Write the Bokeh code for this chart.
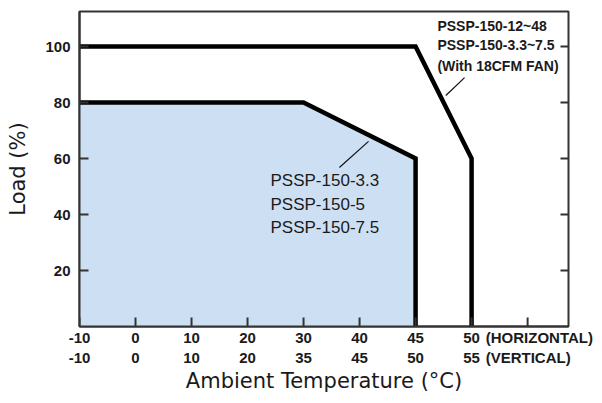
import numpy as np
from bokeh.plotting import figure
from bokeh.models import LinearAxis, FixedTicker, Range1d
from bokeh.core.properties import value
from bokeh.embed import file_html
from bokeh.resources import INLINE

# ---- data ----
temp_horizontal = [-10, 0, 10, 20, 30, 40, 45, 50]
temp_vertical = [-10, 0, 10, 20, 35, 45, 50, 55]
load_ticks = [20, 40, 60, 80, 100]

std_temp = [-10, 30, 45, 45]          # horizontal mounting temperatures
std_load = [80, 80, 60, 0]
fan_temp = [-10, 45, 50, 50]
fan_load = [100, 100, 60, 0]

std_models = ["PSSP-150-3.3", "PSSP-150-5", "PSSP-150-7.5"]
fan_models = ["PSSP-150-12~48", "PSSP-150-3.3~7.5", "(With 18CFM FAN)"]
mount_h = "(HORIZONTAL)"
mount_v = "(VERTICAL)"

# the temperature axis is drawn with evenly spaced tick labels
positions = list(range(len(temp_horizontal)))
def to_pos(t):
    return [float(v) for v in np.interp(t, temp_horizontal, positions)]

std_pos = to_pos(std_temp)
fan_pos = to_pos(fan_temp)

FONT = "Liberation Sans"
TXT = "#1a1a1a"
AX = "#333333"

X_END = 8.73
Y_END = 112.5
FRAME_W = 594 - 79 - 26
FRAME_H = 395 - 11 - 69
px_x = X_END / FRAME_W     # data units per pixel
px_y = Y_END / FRAME_H

p = figure(width=594, height=395, output_backend="svg", toolbar_location=None,
           x_range=Range1d(0, X_END), y_range=Range1d(0, Y_END),
           min_border_left=79, min_border_right=26, min_border_top=11,
           min_border_bottom=69)
p.xgrid.grid_line_color = None
p.ygrid.grid_line_color = None
p.outline_line_color = AX
p.outline_line_width = 2
p.background_fill_color = "white"

# blue region + curves
p.patch([std_pos[0]] + std_pos, [0] + std_load, fill_color="#cde0f3", line_color=None)
p.line(std_pos, std_load, line_color="black", line_width=4.5, line_join="miter")
p.line(fan_pos, fan_load, line_color="black", line_width=4.5, line_join="miter")

# inward tick marks on the bottom and right edges
bt = positions + [len(positions)]
p.segment(x0=bt, y0=[0] * len(bt), x1=bt, y1=[9 * px_y] * len(bt),
          line_color=AX, line_width=2)
p.segment(x0=[X_END] * len(load_ticks), y0=load_ticks,
          x1=[X_END - 8 * px_x] * len(load_ticks), y1=load_ticks,
          line_color=AX, line_width=2)

# leader lines
p.segment(x0=[4.64, 6.875], y0=[56.8, 88.9], x1=[5.16, 6.54], y1=[66.1, 82.5],
          line_color="#111111", line_width=1.2)

# in-plot texts
p.text(x=[3.41] * 3, y=[52.3, 43.7, 35.3], text=std_models,
       text_font=value(FONT), text_font_size="17px", text_color=TXT,
       text_baseline="middle", text_align="left")
p.text(x=[6.39] * 3, y=[107.3, 100.4, 93.2], text=fan_models,
       text_font=value(FONT), text_font_size="14px", text_font_style="bold",
       text_color=TXT, text_baseline="middle", text_align="left")

# y axis (left)
ya = p.yaxis[0]
ya.ticker = FixedTicker(ticks=load_ticks)
ya.major_tick_in = 9
ya.major_tick_out = 0
ya.minor_tick_line_color = None
ya.minor_tick_out = 0
ya.major_tick_line_width = 2
ya.major_tick_line_color = AX
ya.axis_line_color = AX
ya.axis_line_width = 2
ya.major_label_standoff = 9
ya.major_label_text_font = FONT
ya.major_label_text_font_size = "15px"
ya.major_label_text_font_style = "bold"
ya.major_label_text_color = TXT
ya.axis_label = "Load (%)"
ya.axis_label_text_font = "DejaVu Sans"
ya.axis_label_text_font_size = "21px"
ya.axis_label_text_font_style = "normal"
ya.axis_label_text_color = TXT
ya.axis_label_standoff = 12

# x axis (horizontal-mounting row)
h_pos = 8.21
v_pos = 8.01
xa = p.xaxis[0]
xa.ticker = FixedTicker(ticks=positions + [h_pos])
overrides_h = {i: str(t) for i, t in zip(positions, temp_horizontal)}
overrides_h[h_pos] = mount_h
xa.major_label_overrides = overrides_h
xa.major_tick_line_color = None
xa.major_tick_in = 0
xa.major_tick_out = 0
xa.minor_tick_line_color = None
xa.minor_tick_in = 0
xa.minor_tick_out = 0
xa.axis_line_color = AX
xa.axis_line_width = 2
xa.major_label_standoff = 2
xa.major_label_text_font = FONT
xa.major_label_text_font_size = "15px"
xa.major_label_text_font_style = "bold"
xa.major_label_text_color = TXT

# x axis (vertical-mounting row) + title
overrides_v = {i: str(t) for i, t in zip(positions, temp_vertical)}
overrides_v[v_pos] = mount_v
xv = LinearAxis(ticker=FixedTicker(ticks=positions + [v_pos]),
                major_label_overrides=overrides_v,
                axis_line_color=None, major_tick_line_color=None, minor_tick_line_color=None,
                major_tick_in=0, major_tick_out=0, minor_tick_in=0, minor_tick_out=0,
                major_label_standoff=0, major_label_text_font=FONT,
                major_label_text_font_size="15px", major_label_text_font_style="bold",
                major_label_text_color=TXT,
                axis_label="Ambient Temperature (°C)", axis_label_text_font="DejaVu Sans",
                axis_label_text_font_size="21px", axis_label_text_font_style="normal",
                axis_label_text_color=TXT, axis_label_standoff=0)
p.add_layout(xv, "below")

open("out.html", "w").write(file_html(p, INLINE))
